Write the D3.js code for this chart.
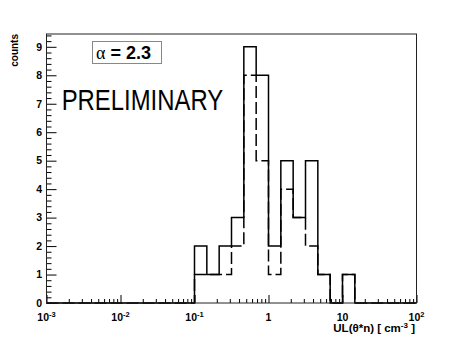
<!DOCTYPE html>
<html><head><meta charset="utf-8">
<script src="https://cdn.jsdelivr.net/npm/d3@7"></script>
<style>body{margin:0;background:#fff}svg{display:block}</style>
</head><body>
<script>
// ---- data ----
const binLowExp = -3;          // first bin lower edge = 10^-3
const binsPerDecade = 6;       // log bins
const solidCounts  = [0,0,0,0,0,0,0,0,0,0,0,0, 2,1,2,3,9,8,2,5,3,5,1,0,1, 0,0,0,0,0];
const dashedCounts = [0,0,0,0,0,0,0,0,0,0,0,0, 1,1,1,2,8,5,1,4,3,2,1,0,1, 0,0,0,0,0];
const xMajorTicks = [1e-3,1e-2,1e-1,1,10,100];
const xTickLabels = [["10","-3"],["10","-2"],["10","-1"],["1",""],["10",""],["10","2"]];
const yMajorTicks = [0,1,2,3,4,5,6,7,8,9];
const yMax = 9.45;

const W=463,H=338;
const L=46.5,R=416.5,T=34,B=303;
const svg=d3.select("body").append("svg").attr("width",W).attr("height",H);
const x=d3.scaleLog().domain([1e-3,1e2]).range([L,R]);
const y=d3.scaleLinear().domain([0,yMax]).range([B,T]);
const font="'Liberation Sans',Arial,Helvetica,sans-serif";

function edge(i){return Math.pow(10, binLowExp + i/binsPerDecade);}
function histPts(c){
  const p=[[x(edge(0)),y(0)]];
  c.forEach((v,i)=>{p.push([x(edge(i)),y(v)]);p.push([x(edge(i+1)),y(v)]);});
  p.push([x(edge(c.length)),y(0)]);
  return p;
}
const line=d3.line();

// axes ticks
const minorX=[];
for(let k=-3;k<2;k++){for(let m=2;m<=9;m++)minorX.push(m*Math.pow(10,k));}
const minorY=d3.range(0,yMax,0.2).filter(v=>Math.abs(v-Math.round(v))>1e-6);

function styleAxis(g){g.select(".domain").remove();g.selectAll("line").attr("stroke","#000").attr("stroke-width",1);g.selectAll("text").remove();}
svg.append("g").attr("transform",`translate(0,${B})`).call(d3.axisBottom(x).tickValues(xMajorTicks).tickSize(-8)).call(styleAxis);
svg.append("g").attr("transform",`translate(0,${B})`).call(d3.axisBottom(x).tickValues(minorX).tickSize(-4)).call(styleAxis);
svg.append("g").attr("transform",`translate(${L},0)`).call(d3.axisLeft(y).tickValues(yMajorTicks).tickSize(-10)).call(styleAxis);
svg.append("g").attr("transform",`translate(${L},0)`).call(d3.axisLeft(y).tickValues(minorY).tickSize(-5)).call(styleAxis);

// histograms
svg.append("path").attr("d",line(histPts(dashedCounts))).attr("fill","none").attr("stroke","#000").attr("stroke-width",1.5).attr("stroke-dasharray","12,4");
svg.append("path").attr("d",line(histPts(solidCounts))).attr("fill","none").attr("stroke","#000").attr("stroke-width",1.5);

// frame
svg.append("rect").attr("x",L).attr("y",T).attr("width",R-L).attr("height",B-T).attr("fill","none").attr("stroke","#222").attr("stroke-width",1);

// y labels
svg.append("g").selectAll("text").data(yMajorTicks).join("text")
  .attr("x",42).attr("y",d=>y(d)).attr("dy","0.36em").attr("text-anchor","end")
  .attr("font-family",font).attr("font-weight","bold").attr("font-size",10.5).text(d=>d);

// x labels
const xl=svg.append("g").selectAll("text").data(xMajorTicks).join("text")
  .attr("x",d=>x(d)).attr("y",321).attr("text-anchor","middle")
  .attr("font-family",font).attr("font-weight","bold").attr("font-size",10.5);
xl.each(function(d,i){
  const t=d3.select(this);const [b,e]=xTickLabels[i];
  t.append("tspan").text(b);
  if(e){t.append("tspan").attr("dy",-4).attr("font-size",7.5).text(e);}
});

// axis titles
const xt=svg.append("text").attr("x",415).attr("y",331.5).attr("text-anchor","end")
  .attr("font-family",font).attr("font-weight","bold").attr("font-size",11.5);
xt.append("tspan").text("UL(θ*n) [ cm");
xt.append("tspan").attr("dy",-4).attr("font-size",8).text("-3");
xt.append("tspan").attr("dy",4).text(" ]");

svg.append("text").attr("transform",`translate(17.5,34) rotate(-90)`).attr("text-anchor","end")
  .attr("font-family",font).attr("font-weight","bold").attr("font-size",10).text("counts");

// alpha box
svg.append("rect").attr("x",92.5).attr("y",41.5).attr("width",69).attr("height",22).attr("fill","#fff").attr("stroke","#888").attr("stroke-width",1);
const at=svg.append("text").attr("x",96).attr("y",59.3).attr("font-size",18);
at.append("tspan").attr("font-family","'Liberation Serif','Times New Roman',serif").text("α");
at.append("tspan").attr("font-family",font).attr("font-weight","bold").text(" = 2.3");

svg.append("text").attr("x",61.7).attr("y",110).attr("font-family",font).attr("font-size",30)
  .attr("textLength",161.5).attr("lengthAdjust","spacingAndGlyphs").text("PRELIMINARY");
</script>
</body></html>
